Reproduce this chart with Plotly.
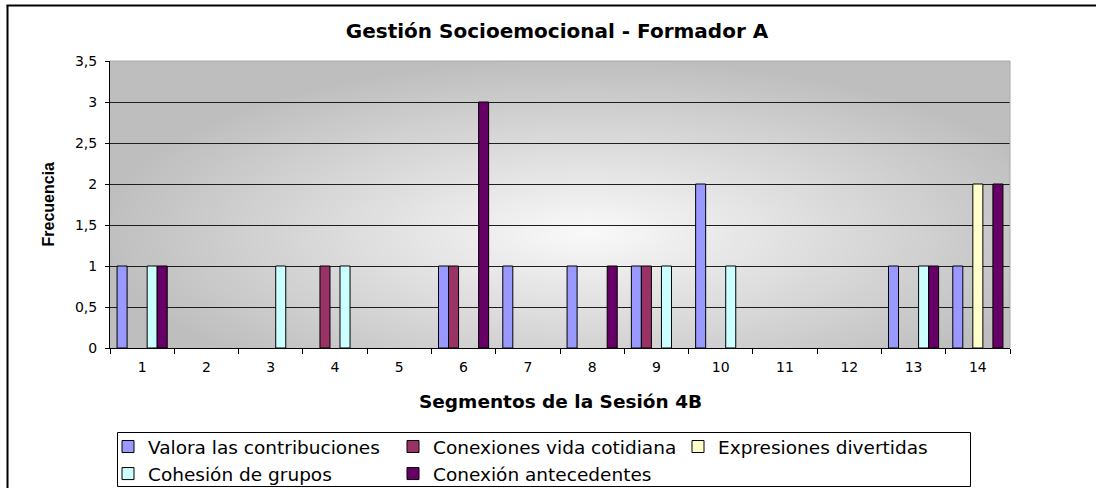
import base64
import struct
import zlib

import numpy as np
import plotly.graph_objects as go

# ---------------- data ----------------
segments = [str(i) for i in range(1, 15)]
valora = [1, 0, 0, 0, 0, 1, 1, 1, 1, 2, 0, 0, 1, 1]
conexiones_vida = [0, 0, 0, 1, 0, 1, 0, 0, 1, 0, 0, 0, 0, 0]
expresiones = [0, 0, 0, 0, 0, 0, 0, 0, 0, 0, 0, 0, 0, 2]
cohesion = [1, 0, 1, 1, 0, 0, 0, 0, 1, 1, 0, 0, 1, 0]
conexion_ant = [1, 0, 0, 0, 0, 3, 0, 1, 0, 0, 0, 0, 1, 2]

series_names = [
    "Valora las contribuciones",
    "Conexiones vida cotidiana",
    "Expresiones divertidas",
    "Cohesión de grupos",
    "Conexión antecedentes",
]
series_values = [valora, conexiones_vida, expresiones, cohesion, conexion_ant]
series_colors = ["#9999FF", "#993366", "#FFFFCC", "#CCFFFF", "#660066"]

title_text = "Gestión Socioemocional - Formador A"
x_title = "Segmentos de la Sesión 4B"
y_title = "Frecuencia"

WIDE = "DejaVu Sans, Verdana, sans-serif"
ARIAL = "Liberation Sans, Arial, sans-serif"


# ---------------- gradient background (plot area) ----------------
def gradient_png_uri(w=450, h=144):
    xs = np.linspace(0, 1, w)
    ys = np.linspace(0, 1, h)
    X, Y = np.meshgrid(xs, ys)
    cx, cy, rx, ry = 0.53, 0.60, 0.55, 0.62
    r = np.sqrt(((X - cx) / rx) ** 2 + ((Y - cy) / ry) ** 2)
    r = np.clip(r, 0, 1)
    v = (250 - 60 * r).astype(np.uint8)
    arr = np.stack([v, v, v], axis=-1)
    raw = b"".join(b"\x00" + arr[i].tobytes() for i in range(h))

    def chunk(t, d):
        c = struct.pack(">I", len(d)) + t + d
        return c + struct.pack(">I", zlib.crc32(t + d) & 0xFFFFFFFF)

    png = (
        b"\x89PNG\r\n\x1a\n"
        + chunk(b"IHDR", struct.pack(">IIBBBBB", w, h, 8, 2, 0, 0, 0))
        + chunk(b"IDAT", zlib.compress(raw, 9))
        + chunk(b"IEND", b"")
    )
    return "data:image/png;base64," + base64.b64encode(png).decode()


fig = go.Figure()
for name, vals, col in zip(series_names, series_values, series_colors):
    fig.add_trace(
        go.Bar(
            x=segments,
            y=[v if v else None for v in vals],
            name=name,
            marker=dict(color=col, line=dict(color="#000000", width=1)),
        )
    )

# body margin is removed by the post script, so page px == figure px
W, H = 1096, 488
L, T = 110, 61
R = W - 1010
B = H - 348
pw, ph = W - L - R, H - T - B


def px_x(x):
    return (x - L) / pw


def px_y(y):
    return (H - B - y) / ph


fig.update_layout(
    width=W,
    height=H,
    margin=dict(l=L, r=R, t=T, b=B, autoexpand=False),
    paper_bgcolor="white",
    plot_bgcolor="rgba(0,0,0,0)",
    separators=",.",
    barmode="group",
    bargap=0.22,
    bargroupgap=0,
    font=dict(family=WIDE, color="black"),
    showlegend=True,
    title=dict(
        text=title_text,
        x=px_x(557),
        xref="paper",
        xanchor="center",
        y=1 - 31 / H,
        yref="container",
        yanchor="middle",
        font=dict(family=WIDE, size=20, color="black", weight="bold"),
    ),
    xaxis=dict(
        type="category",
        showline=True,
        linecolor="black",
        linewidth=1,
        ticks="outside",
        tickson="boundaries",
        ticklen=5,
        tickcolor="black",
        tickfont=dict(size=14, family=WIDE),
        ticklabelstandoff=6,
        showgrid=False,
        zeroline=False,
    ),
    yaxis=dict(
        range=[0, 3.5],
        dtick=0.5,
        showline=True,
        linecolor="black",
        linewidth=1,
        ticks="outside",
        ticklen=4,
        tickcolor="black",
        tickfont=dict(size=14, family=WIDE),
        ticklabelstandoff=5,
        showgrid=True,
        gridcolor="#1e1e1e",
        gridwidth=1,
        zeroline=False,
    ),
    legend=dict(
        orientation="h",
        x=px_x(108),
        y=px_y(428),
        xanchor="left",
        yanchor="top",
        borderwidth=0,
        bgcolor="rgba(0,0,0,0)",
        font=dict(size=18.5, family=WIDE, color="black"),
        entrywidth=240,
        tracegroupgap=0,
    ),
    annotations=[
        dict(
            text=f"<b>{x_title}</b>",
            xref="paper",
            yref="paper",
            x=0.5,
            y=px_y(401),
            xanchor="center",
            yanchor="middle",
            showarrow=False,
            font=dict(family=WIDE, size=18.5, color="black"),
        ),
        dict(
            text=f"<b>{y_title}</b>",
            xref="paper",
            yref="paper",
            x=px_x(48),
            y=0.5,
            xanchor="center",
            yanchor="middle",
            textangle=-90,
            showarrow=False,
            font=dict(family=ARIAL, size=16, color="black"),
        ),
    ],
    images=[
        dict(
            source=gradient_png_uri(),
            xref="paper",
            yref="paper",
            x=0,
            y=1,
            sizex=1,
            sizey=1,
            sizing="stretch",
            xanchor="left",
            yanchor="top",
            layer="below",
        )
    ],
    shapes=[
        # legend box
        dict(type="rect", xref="paper", yref="paper", x0=px_x(117.5), x1=px_x(970.5),
             y0=px_y(432.5), y1=px_y(486.5), fillcolor="white",
             line=dict(color="black", width=1), layer="below"),
        # light frame of the plot area (top / right)
        dict(type="line", xref="paper", yref="paper", x0=0, x1=1, y0=1, y1=1,
             line=dict(color="#a8a8a8", width=1), layer="above"),
        dict(type="line", xref="paper", yref="paper", x0=1, x1=1, y0=0, y1=1,
             line=dict(color="#a8a8a8", width=1), layer="above"),
        # outer chart frame (left / top)
        dict(type="line", xref="paper", yref="paper", x0=px_x(7.5), x1=px_x(7.5), y0=px_y(5.5), y1=px_y(495),
             line=dict(color="black", width=2), layer="above"),
        dict(type="line", xref="paper", yref="paper", x0=px_x(6.5), x1=px_x(1100), y0=px_y(5.5), y1=px_y(5.5),
             line=dict(color="black", width=2), layer="above"),
    ],
)

fig.write_html(
    "out.html",
    config={"displayModeBar": False},
    post_script="document.body.style.margin='0px'; document.body.style.overflow='hidden';",
)
